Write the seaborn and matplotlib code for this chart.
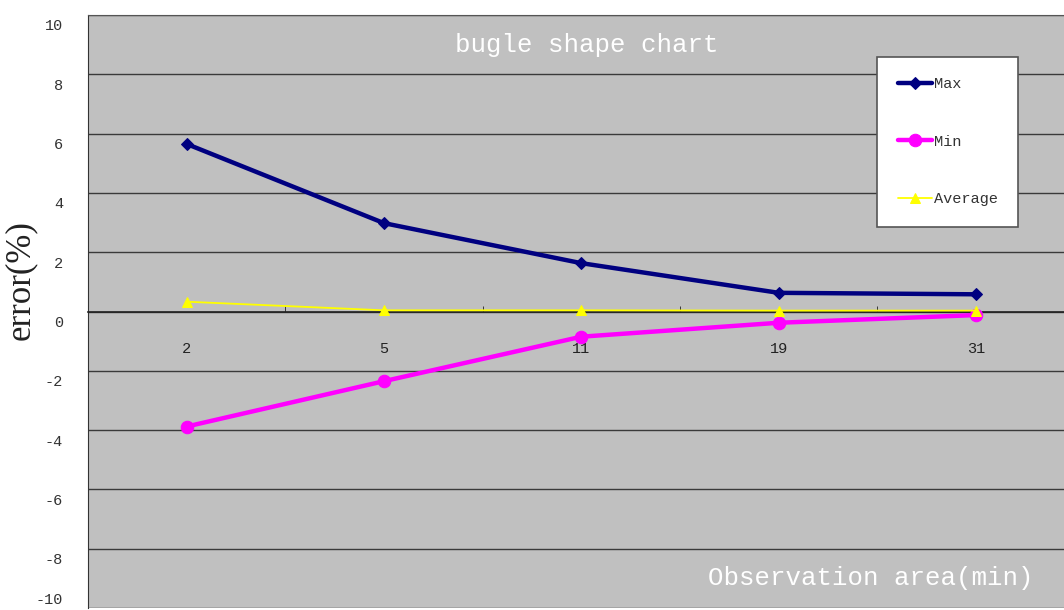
import pandas as pd
import matplotlib.pyplot as plt
import matplotlib.transforms as mtransforms
import seaborn as sns
import numpy as np

categories = ['2', '5', '11', '19', '31']
max_vals = [5.65, 2.98, 1.63, 0.63, 0.58]
min_vals = [-3.88, -2.35, -0.85, -0.38, -0.12]
avg_vals = [0.33, 0.04, 0.04, 0.03, 0.03]

df = pd.DataFrame({
    'pos': np.arange(len(categories)),
    'Max': max_vals,
    'Min': min_vals,
    'Average': avg_vals,
})

sns.set_style('white')
plt.rcParams['font.family'] = ['Liberation Mono', 'DejaVu Sans Mono']
plt.rcParams['axes.unicode_minus'] = False

fig = plt.figure(figsize=(10.64, 6.1), dpi=100)
ax = fig.add_axes([88 / 1064, 2 / 610, 1 - 88 / 1064 + 0.01, 593 / 610])
ax.set_facecolor('#c0c0c0')

# series styles
styles = {
    'Max': dict(color='#000080', marker='D', lw=3.2, ms=6),
    'Min': dict(color='#ff00ff', marker='o', lw=3.2, ms=9),
    'Average': dict(color='#ffff00', marker='^', lw=1.3, ms=7),
}
for name in ['Max', 'Min', 'Average']:
    st = styles[name]
    sns.lineplot(data=df, x='pos', y=name, ax=ax, color=st['color'], marker=st['marker'],
                 linewidth=st['lw'], markersize=st['ms'], markeredgecolor=st['color'],
                 label=name, zorder=3)

ax.set_ylim(-10, 10)
ax.set_xlim(-0.5, len(categories) - 0.5)
ax.set_yticks(np.arange(-10, 11, 2))
ax.grid(axis='y', color='#3a3a3a', linewidth=1)
ax.grid(axis='x', visible=False)

# x axis sits on the zero line
ax.spines['bottom'].set_position(('data', 0))
ax.spines['bottom'].set_color('#222222')
ax.spines['bottom'].set_linewidth(1.2)
ax.spines['left'].set_color('#333333')
ax.spines['top'].set_color('#555555')
ax.spines['right'].set_visible(False)
ax.set_xticks(np.arange(len(categories)))
ax.set_xticklabels(categories, fontsize=11, color='#222222')
ax.set_xticks(np.arange(len(categories) - 1) + 0.5, minor=True)
ax.tick_params(axis='x', which='major', length=0, pad=22)
ax.tick_params(axis='x', which='minor', length=4, direction='in', color='#222222', bottom=True)
ax.tick_params(axis='y', length=0, pad=18, labelsize=11, labelcolor='#333333')

shift = mtransforms.ScaledTranslation(0, -0.1, fig.dpi_scale_trans)
for lab in ax.get_yticklabels():
    lab.set_transform(lab.get_transform() + shift)
ax.get_yticklabels()[0].set_transform(ax.get_yticklabels()[0].get_transform()
                                       + mtransforms.ScaledTranslation(0, 0.2, fig.dpi_scale_trans))

ax.set_xlabel('')
ax.set_ylabel('error(%)', family=['Liberation Serif'], fontsize=25, color='#222222')
ax.yaxis.set_label_coords(-0.052, 0.553)

ax.text(0.505, 0.95, 'bugle shape chart', transform=ax.transAxes, ha='center', va='center',
        color='white', fontsize=18.5)
ax.text(0.793, 0.05, 'Observation area(min)', transform=ax.transAxes, ha='center', va='center',
        color='white', fontsize=18.5)

leg = ax.legend(loc='upper left', bbox_to_anchor=(0.800, 0.93), frameon=True, fancybox=False,
                fontsize=11, labelspacing=2.85, borderpad=1.35, handlelength=2.2,
                handletextpad=0.15, borderaxespad=0)
leg.get_frame().set_facecolor('white')
leg.get_frame().set_edgecolor('#555555')
leg.get_frame().set_linewidth(1.2)
leg.get_frame().set_alpha(1)
for t in leg.get_texts():
    t.set_color('#333333')

fig.savefig('out.png', dpi=100)
